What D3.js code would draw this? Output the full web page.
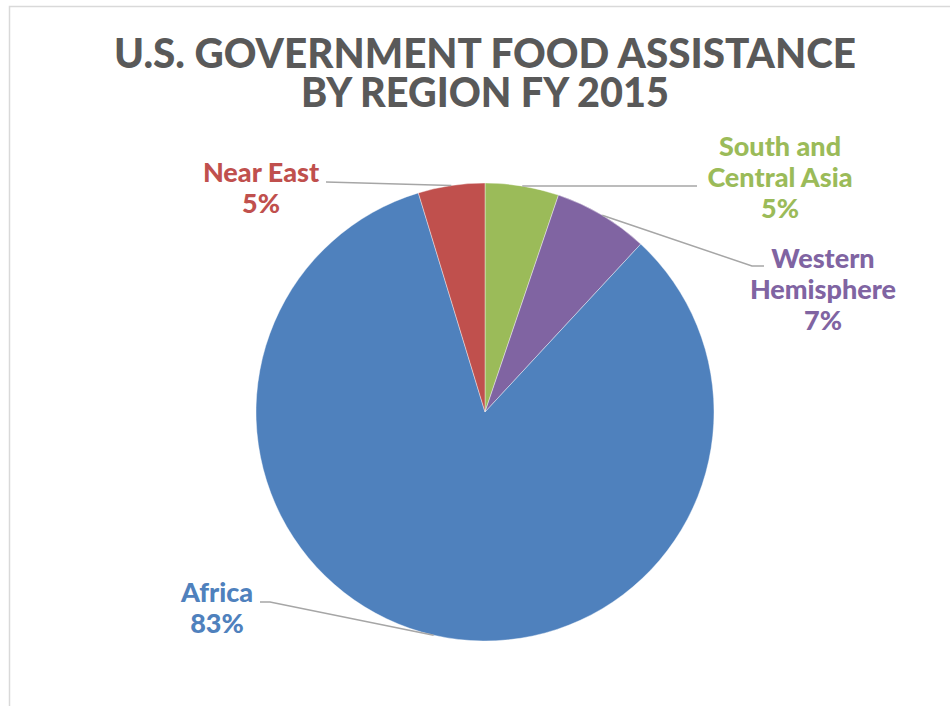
<!DOCTYPE html>
<html>
<head>
<meta charset="utf-8">
<script src="https://cdn.jsdelivr.net/npm/d3@7"></script>
<style>
  body { margin: 0; background: #fff; }
  svg { display: block; font-family: Lato, "Open Sans", sans-serif; }
</style>
</head>
<body>
<div id="chart"></div>
<script>
// slices clockwise from 12 o'clock
var regions = ["South and Central Asia", "Western Hemisphere", "Africa", "Near East"];
var shares = [5.2, 6.7, 83.4, 4.7];
var labelLines = [["South and", "Central Asia"], ["Western", "Hemisphere"], ["Africa"], ["Near East"]];
var colors = ["#9BBB59", "#8064A2", "#4F81BD", "#C0504D"];
var titleLines = ["U.S. GOVERNMENT FOOD ASSISTANCE", "BY REGION FY 2015"];

var w = 950, h = 706;
var cx = 485, cy = 412, radius = 229;

// where each label block sits (centre x, baseline of first line) and its leader elbow
var labelPos = [
    {x: 780, y: 156, lineStart: [697, 186], elbow: null},
    {x: 823, y: 268, lineStart: [764, 266], elbow: [752, 266]},
    {x: 217, y: 602, lineStart: [260, 602], elbow: [270, 602]},
    {x: 261, y: 182, lineStart: [326, 182], elbow: null}
];

var svg = d3.select("#chart").append("svg")
    .attr("width", w)
    .attr("height", h);

// chart frame (cut off at right and bottom)
svg.append("path")
    .attr("d", "M9.5," + h + "V6.5H" + w)
    .attr("fill", "none")
    .attr("stroke", "#d9d9d9")
    .attr("stroke-width", 1.5);

// title, two lines in one text element
var titleWidths = [742, 368];
svg.append("text")
    .attr("class", "title")
    .attr("text-anchor", "middle")
    .attr("font-size", 41)
    .attr("font-weight", 900)
    .attr("fill", "#595959")
    .selectAll("tspan")
    .data(titleLines)
    .enter()
    .append("tspan")
    .attr("x", 485)
    .attr("y", function(d, i) { return 68 + i * 39; })
    .attr("textLength", function(d, i) { return titleWidths[i]; })
    .attr("lengthAdjust", "spacingAndGlyphs")
    .text(function(d) { return d; });

var pie = d3.pie().sort(null).value(function(d) { return d; });
var arcs = pie(shares);
var arc = d3.arc().innerRadius(0).outerRadius(radius);

var g = svg.append("g").attr("transform", "translate(" + cx + "," + cy + ")");

g.selectAll(".slice")
    .data(arcs)
    .enter()
    .append("path")
    .attr("class", "slice")
    .attr("d", arc)
    .attr("fill", function(d, i) { return colors[i]; })
    .attr("stroke", "#fff")
    .attr("stroke-width", 0.4);

// leader lines from label to the middle of each slice's outer edge
svg.selectAll(".leader")
    .data(arcs)
    .enter()
    .append("polyline")
    .attr("class", "leader")
    .attr("fill", "none")
    .attr("stroke", "#a6a6a6")
    .attr("stroke-width", 1.5)
    .attr("points", function(d, i) {
        var mid = (d.startAngle + d.endAngle) / 2;
        var px = cx + radius * Math.sin(mid);
        var py = cy - radius * Math.cos(mid);
        var p = labelPos[i];
        var pts = [p.lineStart];
        if (p.elbow) pts.push(p.elbow);
        pts.push([px, py]);
        return pts.map(function(q) { return q.join(","); }).join(" ");
    });

// labels
var labels = svg.selectAll(".label")
    .data(arcs)
    .enter()
    .append("text")
    .attr("class", "label")
    .attr("text-anchor", "middle")
    .attr("font-size", 27)
    .attr("font-weight", 900)
    .attr("fill", function(d, i) { return colors[i]; });

labels.each(function(d, i) {
    var t = d3.select(this);
    var lines = labelLines[i].concat([Math.round(shares[i]) + "%"]);
    lines.forEach(function(s, j) {
        t.append("tspan")
            .attr("x", labelPos[i].x)
            .attr("y", labelPos[i].y + j * 31)
            .text(s);
    });
});
</script>
</body>
</html>
